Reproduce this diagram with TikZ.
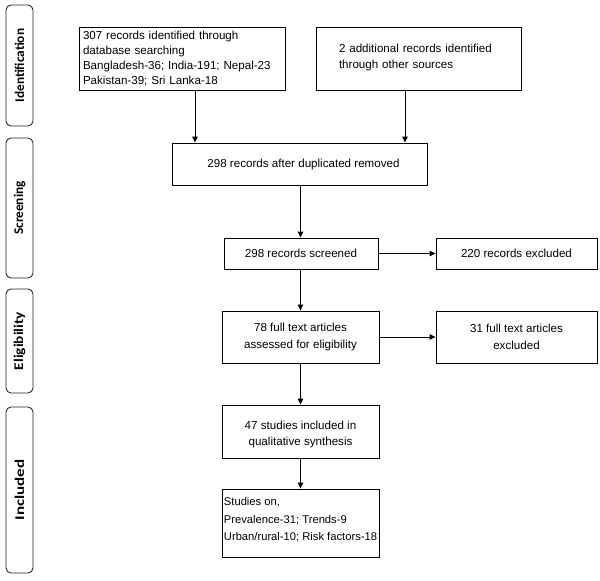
\documentclass[tikz,border=0pt]{standalone}
\usepackage{fontspec}
\setmainfont{Liberation Sans}
\newfontfamily\lblfont{Carlito}
\usetikzlibrary{arrows.meta}
\begin{document}
\begin{tikzpicture}[x=1pt,y=-1pt,
  box/.style={draw=black,line width=0.9pt,rectangle,inner sep=0pt},
  big/.style={font=\fontsize{11.6}{14.7}\selectfont},
  two/.style={font=\fontsize{11.6}{16.5}\selectfont,align=center},
  phase/.style={draw=black!85,line width=0.9pt,rounded corners=5pt,rectangle,rotate=90,
     minimum height=27pt,inner sep=0pt,font=\lblfont\bfseries\fontsize{13.3}{14}\selectfont},
  arr/.style={line width=0.9pt,-{Triangle[length=6pt,width=5.5pt]}}]
\useasboundingbox (0,0) rectangle (600,581);
% phase labels
\node[phase,minimum width=121pt] (pid) at (19.5,65.5) {Identification};
\node[phase,minimum width=140pt] (pscr) at (19.5,208) {Screening};
\node[phase,minimum width=104pt] (pel) at (19.5,341) {\scalebox{1.15}[1]{Eligibility}};
\node[phase,minimum width=166pt] (pinc) at (19.5,490) {\scalebox{1.28}[1]{Included}};
% boxes
\node[box,big,minimum width=206pt,minimum height=63pt,text width=198pt,inner xsep=4pt,align=left] (db) at (182,58.5)
  {307 records identified through\\database searching\\Bangladesh-36; India-191; Nepal-23\\Pakistan-39; Sri Lanka-18};
\node[box,minimum width=205pt,minimum height=63pt,text width=159pt,inner xsep=23pt,align=left,font=\fontsize{11.6}{16}\selectfont] (oth) at (418.5,58.5)
  {2 additional records identified\\through other sources\rule[-5pt]{0pt}{5pt}};
\node[box,big,minimum width=255pt,minimum height=42pt] (dup) at (299.5,164)
  {\hspace{8pt}298 records after duplicated removed};
\node[box,big,minimum width=154pt,minimum height=31pt] (scr) at (301,253.5)
  {298 records screened};
\node[box,big,minimum width=161pt,minimum height=31pt] (ex1) at (516.5,253.5)
  {220 records excluded};
\node[box,two,minimum width=157pt,minimum height=52pt] (elig) at (300.5,337)
  {78 full text articles\\assessed for eligibility};
\node[box,two,minimum width=161pt,minimum height=52pt] (ex2) at (516.5,337)
  {31 full text articles\\excluded};
\node[box,minimum width=157pt,minimum height=53pt,align=center,font=\fontsize{11.6}{16}\selectfont] (qual) at (300.5,431.5)
  {\rule{0pt}{14.5pt}47 studies included in\\qualitative synthesis};
\node[box,minimum width=157pt,minimum height=68pt,align=left,font=\fontsize{11.2}{17.5}\selectfont] (stud) at (300.5,523)
  {Studies on,\\Prevalence-31; Trends-9\\Urban/rural-10; Risk factors-18\rule[-8pt]{0pt}{8pt}};
% arrows
\draw[arr] ([xshift=13pt]db.south) -- ([xshift=13pt]db.south |- dup.north);
\draw[arr] ([xshift=-13.5pt]oth.south) -- ([xshift=-13.5pt]oth.south |- dup.north);
\draw[arr] (elig.north |- dup.south) -- (elig.north |- scr.north);
\draw[arr] (elig.north |- scr.south) -- (elig.north);
\draw[arr] (scr.east) -- (ex1.west);
\draw[arr] (elig.east) -- (ex2.west);
\draw[arr] (elig.south) -- (elig.south |- qual.north);
\draw[arr] (qual.south) -- (stud.north);
\end{tikzpicture}
\end{document}
